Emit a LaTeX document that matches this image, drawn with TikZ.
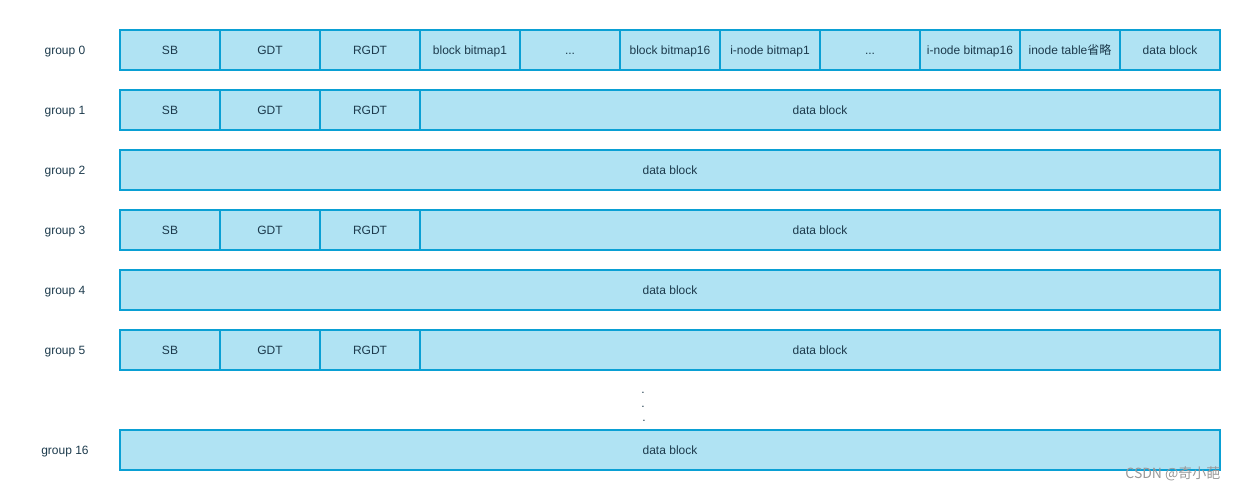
\documentclass[tikz,border=0pt]{standalone}
\usepackage{fontspec}
\setmainfont{Liberation Sans}
\newfontfamily\cjkfont{Noto Sans CJK SC}
\usetikzlibrary{positioning}
\definecolor{cellfill}{HTML}{B0E3F3}
\definecolor{celldraw}{HTML}{0AA0D4}
\definecolor{celltext}{HTML}{1C3A4C}
\tikzstyle{cell}=[fill=cellfill, draw=celldraw, line width=2pt, text=celltext,
        minimum width=100pt, minimum height=40pt, inner sep=0pt, outer sep=0pt,
        text height=10pt, text depth=2pt, font=\fontsize{12}{14}\selectfont]
\tikzstyle{wide}=[cell, minimum width=800pt]
\tikzstyle{full}=[cell, minimum width=1100pt]
\tikzstyle{grp}=[text=celltext, text height=10pt, text depth=2pt,
        font=\fontsize{12}{14}\selectfont]

\begin{document}
\begin{tikzpicture}[x=1pt, y=-1pt]
        \useasboundingbox (0,0) rectangle (1240,490);

        % group 0
        \node[grp] (l0) at (65,50) {group 0};
        \node[cell, anchor=west] (sb0) at (120,50) {SB};
        \node[cell, right=0pt of sb0] (gdt0) {GDT};
        \node[cell, right=0pt of gdt0] (rgdt0) {RGDT};
        \node[cell, right=0pt of rgdt0] (bb1) {block bitmap1};
        \node[cell, right=0pt of bb1] (bbd) {.{}.{}.};
        \node[cell, right=0pt of bbd] (bb16) {block bitmap16};
        \node[cell, right=0pt of bb16] (ib1) {i-node bitmap1};
        \node[cell, right=0pt of ib1] (ibd) {.{}.{}.};
        \node[cell, right=0pt of ibd] (ib16) {i-node bitmap16};
        \node[cell, right=0pt of ib16] (itab) {inode table{\cjkfont 省略}};
        \node[cell, right=0pt of itab] (db0) {data block};

        % groups 1, 3, 5
        \foreach \g/\y in {1/110, 3/230, 5/350} {
            \node[grp] (l\g) at (65,\y) {group \g};
            \node[cell, anchor=west] (sb\g) at (120,\y) {SB};
            \node[cell, right=0pt of sb\g] (gdt\g) {GDT};
            \node[cell, right=0pt of gdt\g] (rgdt\g) {RGDT};
            \node[wide, right=0pt of rgdt\g] (db\g) {data block};
        }

        % groups 2, 4, 16
        \foreach \g/\y in {2/170, 4/290, 16/450} {
            \node[grp] (l\g) at (65,\y) {group \g};
            \node[full, anchor=west] (db\g) at (120,\y) {data block};
        }

        % dots
        \node[grp, inner sep=0pt] (d1) at (643,389) {.};
        \node[grp, inner sep=0pt] (d2) at (643,403) {.};
        \node[grp, inner sep=0pt] (d3) at (644,417) {.};

        \node[text=black!40, font=\cjkfont\fontsize{14}{16}\selectfont, anchor=east]
            (wm) at (1224,474) {CSDN @奇小葩};

    \end{tikzpicture}
\end{document}
